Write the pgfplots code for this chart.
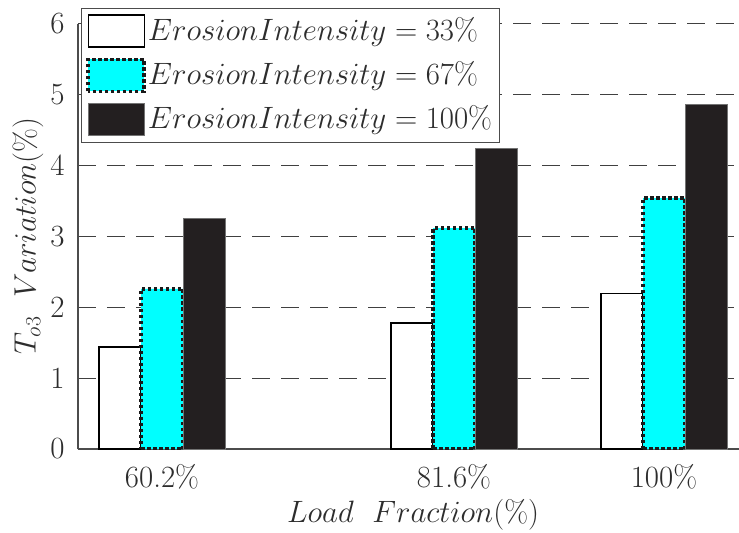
\RequirePackage{fix-cm}
\documentclass[border=0pt]{standalone}
\usepackage{pgfplots}
\pgfplotsset{compat=1.18}
\definecolor{barblack}{RGB}{35,31,32}
\definecolor{txt}{RGB}{45,45,45}
\definecolor{barcyan}{RGB}{0,255,255}
\begin{document}
\fontsize{31}{37}\selectfont
\begin{tikzpicture}
\useasboundingbox (-78bp,-84bp) rectangle (661bp,449bp);
\begin{axis}[
  at={(0,0)}, anchor=south west,
  scale only axis, width=661bp, height=425bp,
  xmin=78, xmax=739, ymin=0, ymax=6,
  axis x line*=bottom, axis y line*=left,
  axis line style={black!70, line width=1.3bp},
  ytick={0,1,2,3,4,5,6},
  xtick={162,454,664}, xticklabels={60.2\%,81.6\%,100\%},
  tick style={draw=none},
  ymajorgrids,
  major grid style={dash pattern=on 18bp off 11bp, black!75, line width=1bp},
  ticklabel style={font=\fontsize{31}{37}\selectfont, text=txt},
  xticklabel style={yshift=-1bp},
  yticklabel style={xshift=-3bp},
  xlabel={$Load\ \ Fraction(\%)$},
  ylabel={$T_{o3}\ \ Variation(\%)$},
  label style={font=\fontsize{31}{37}\selectfont, text=txt},
  xlabel style={at={(axis description cs:0.507,-0.155)}, anchor=center},
  ylabel style={at={(axis description cs:-0.0756,0.501)}, anchor=center, rotate=0},
  ybar=0pt, bar width=42bp,
  legend style={at={(axis description cs:0.0045,1.038)}, anchor=north west,
    draw=black!70, line width=1bp, fill=white,
    font=\fontsize{31}{37}\selectfont, text=txt,
    inner xsep=5bp, inner ysep=6bp, row sep=10bp},
  legend cell align=left,
  legend image code/.code={\draw[#1] (0bp,-16bp) rectangle (56bp,16bp);},
]
\addplot[draw=black, fill=white, line width=1.2bp]
  coordinates {(162,1.44) (454,1.78) (664,2.20)};
\addplot[draw=black!90, fill=barcyan, line width=3.5bp, dash pattern=on 3.5bp off 2.5bp]
  coordinates {(162,2.26) (454,3.12) (664,3.54)};
\addplot[draw=black!55, fill=barblack, line width=1bp]
  coordinates {(162,3.26) (454,4.24) (664,4.86)};
\legend{$Erosion Intensity = 33\%$, $Erosion Intensity = 67\%$, $Erosion Intensity = 100\%$}
\end{axis}
\end{tikzpicture}
\end{document}
